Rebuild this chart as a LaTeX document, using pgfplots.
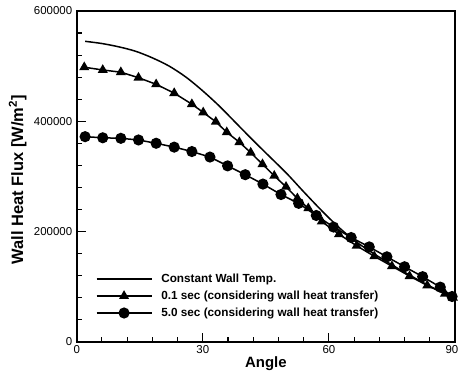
\documentclass[border=0pt]{standalone}
\usepackage{pgfplots}
\pgfplotsset{compat=1.18}
\usepackage{fontspec}
\setmainfont{Liberation Sans}
\begin{document}
\begin{tikzpicture}
\path[use as bounding box] (-76.7bp,-32.3bp) rectangle (382.3bp,341.7bp);
\begin{axis}[at={(0,0)}, anchor=south west, scale only axis,
  width=378.3bp, height=330.7bp,
  xmin=0, xmax=90, ymin=0, ymax=600000,
  xtick={0,30,60,90}, ytick={0,200000,400000,600000},
  xticklabels={0,30,60,{\hspace*{-6bp}90}},
  minor x tick num=4, minor y tick num=4,
  tick pos=left, tick align=inside,
  major tick length=9bp, minor tick length=5bp,
  axis line style={line width=1.8bp},
  every tick/.style={line width=1.1bp, black},
  scaled y ticks=false,
  /pgf/number format/assume math mode=true,
  yticklabel style={/pgf/number format/fixed, /pgf/number format/1000 sep={}, xshift=-1bp},
  ticklabel style={font=\fontsize{11.5}{13}\selectfont},
  xlabel={Angle},
  ylabel={Wall Heat Flux [W/m\textsuperscript{2}]},
  label style={font=\fontsize{15}{17}\selectfont\bfseries},
  xlabel style={at={(axis description cs:0.5,-0.0795)}, anchor=base},
  ylabel style={at={(axis description cs:-0.156,0.49)}, anchor=center, font=\fontsize{16.5}{18}\selectfont\bfseries},
  legend style={draw=none, fill=none, at={(axis description cs:0.05,0.065)}, anchor=south west,
    inner sep=0pt, column sep=8bp, row sep=3bp,
    font=\fontsize{11.8}{13}\selectfont\bfseries,
    nodes={inner sep=1bp, text height=9bp, text depth=3bp}},
  legend cell align=left,
  legend image code/.code={\draw[mark repeat=2, mark phase=2, #1] plot coordinates {(0bp,0bp) (27.5bp,0bp) (55bp,0bp)};},
]
\addplot[black, line width=1.5bp, smooth] coordinates {
(2,545000) (6,541000) (10,535000) (14,527000) (18,515000) (22,500000) (26,480000)
(30,455000) (34,427000) (38,396000) (42,365000) (46,335000) (50,305000) (54,272000)
(58,240000) (62,210000) (66,184000) (70,163000) (74,144000) (78,126000) (82,109000)
(86,93000) (90,79000)};
\addlegendentry{Constant Wall Temp.}
\addplot[black, line width=1.5bp, mark=triangle*, mark size=4.3bp, mark options={solid}] coordinates {
(1.8,498000) (6.2,493000) (10.5,489000) (14.7,479000) (18.9,467000) (23.2,451000) (27.4,431000)
(30.1,416000) (33.1,399000) (35.7,380000) (38.7,362000) (41.4,343000) (44.2,322000)
(47.0,301000) (49.8,281000) (52.5,260000) (55.1,242000) (58.3,218000) (62.4,195000)
(66.6,174000) (70.8,155000) (75.0,137000) (79.2,119000) (83.4,102000) (87.6,87000) (89.5,80000)};
\addlegendentry{0.1 sec (considering wall heat transfer)}
\addplot[black, line width=1.5bp, mark=*, mark size=4.8bp, mark options={solid}] coordinates {
(2.0,372000) (6.2,370000) (10.5,369000) (14.7,366000) (18.9,360000) (23.2,353000) (27.4,345000)
(31.7,335000) (35.9,319000) (40.1,303000) (44.3,286000) (48.6,267000) (52.8,251000)
(57.0,229000) (61.1,208000) (65.3,189000) (69.6,172000) (73.8,154000) (78.0,136000)
(82.3,118000) (86.5,99000) (89.3,82000)};
\addlegendentry{5.0 sec (considering wall heat transfer)}
\end{axis}
\end{tikzpicture}
\end{document}
